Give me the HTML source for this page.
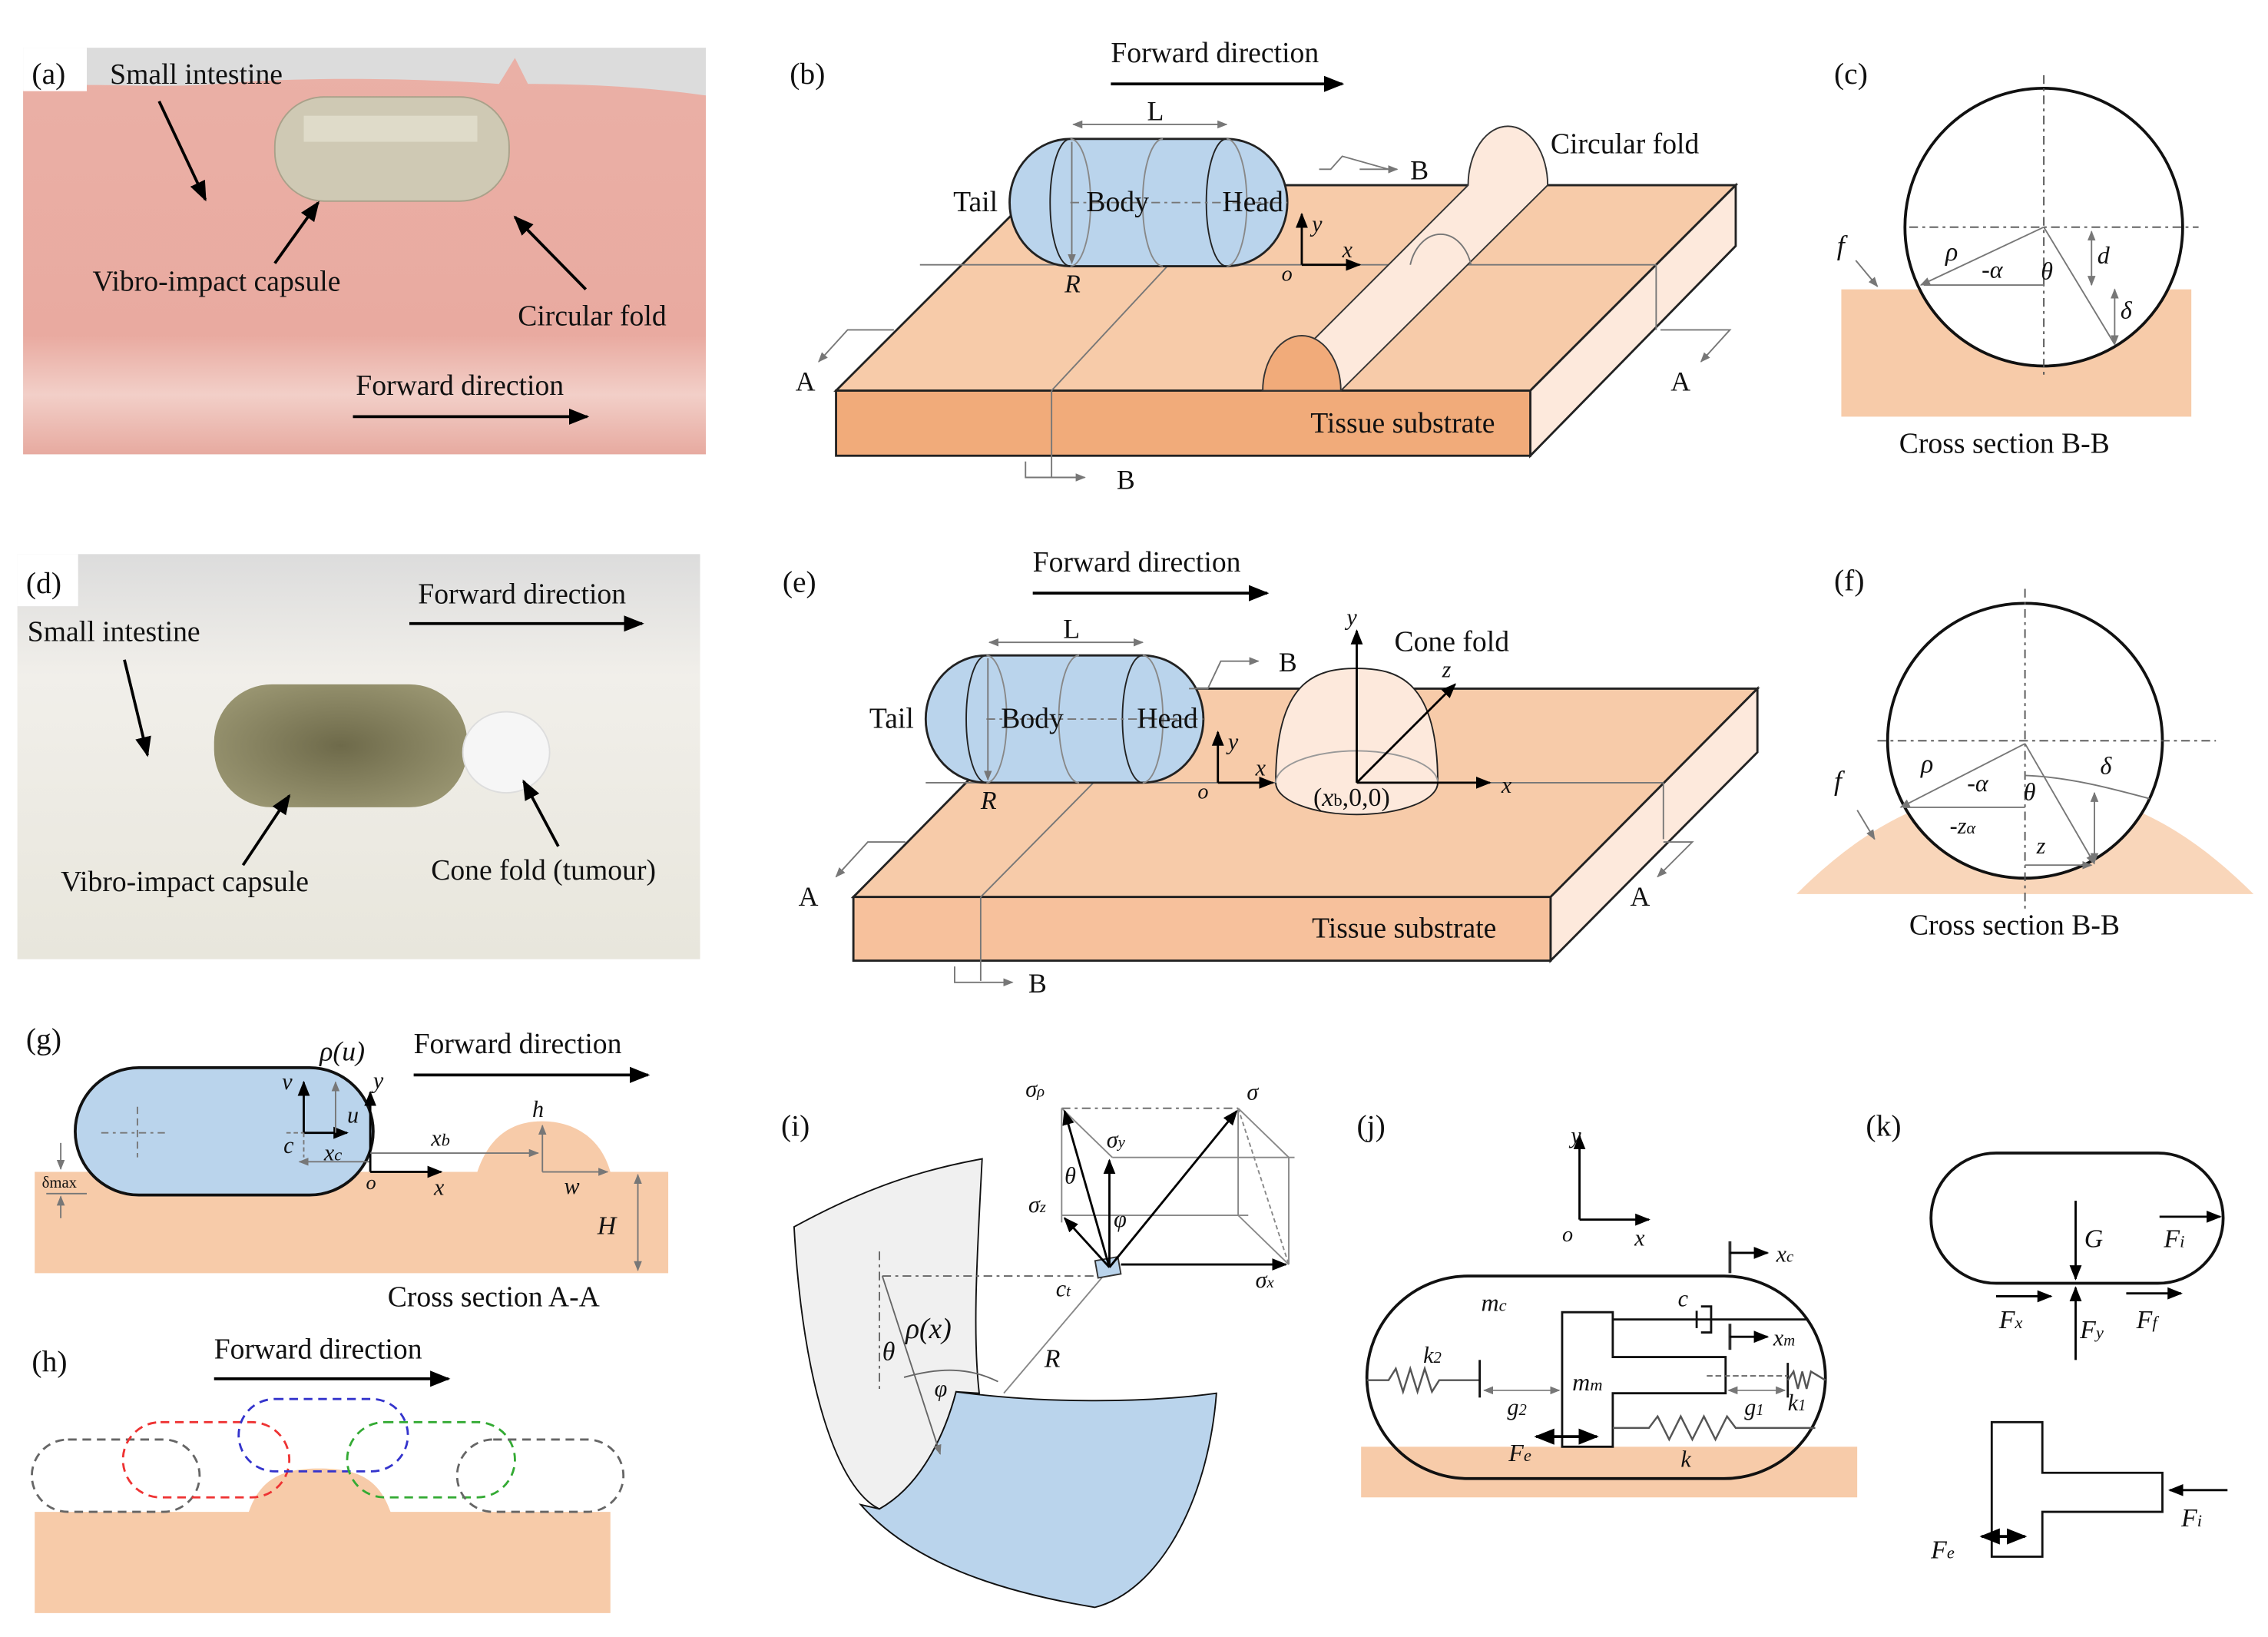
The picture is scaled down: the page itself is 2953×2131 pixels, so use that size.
<!DOCTYPE html>
<html><head><meta charset="utf-8"><style>
html,body{margin:0;padding:0;background:#fff;}
svg{display:block;}
svg text{font-family:"Liberation Serif","Times New Roman",serif !important;fill:#111;}
.i{font-style:italic;}
</style></head><body>
<svg width="2953" height="2131" viewBox="0 0 1568 1131.5" preserveAspectRatio="none" xmlns="http://www.w3.org/2000/svg" font-family="Liberation Serif, serif">
<defs>
<marker id="ak" viewBox="0 0 10 10" refX="9" refY="5" markerWidth="7" markerHeight="7" orient="auto-start-reverse"><path d="M0,1 L10,5 L0,9 z" fill="#000"/></marker>
<marker id="ag" viewBox="0 0 10 10" refX="9" refY="5" markerWidth="7" markerHeight="7" orient="auto-start-reverse"><path d="M0,1 L10,5 L0,9 z" fill="#777"/></marker>
<linearGradient id="pink" x1="0" y1="0" x2="0" y2="1"><stop offset="0" stop-color="#eab0a6"/><stop offset="0.7" stop-color="#e9aaa0"/><stop offset="0.85" stop-color="#f2cfc8"/><stop offset="1" stop-color="#e7aaa0"/></linearGradient>
<linearGradient id="wht" x1="0" y1="0" x2="0" y2="1"><stop offset="0" stop-color="#dcdcdc"/><stop offset="0.3" stop-color="#f1efea"/><stop offset="1" stop-color="#e8e6dc"/></linearGradient>
<radialGradient id="cap" cx="0.5" cy="0.5" r="0.6"><stop offset="0" stop-color="#6e6a4a"/><stop offset="1" stop-color="#9a9672"/></radialGradient>
</defs>

<!-- (a) photo -->
<rect x="16" y="33" width="472" height="281" fill="#dcdcdc"/>
<path d="M16,62 C50,55 100,62 150,58 C220,52 300,55 345,58 L356,40 L365,58 C420,58 460,62 488,66 L488,314 L16,314 z" fill="url(#pink)"/>
<rect x="16" y="33" width="44" height="30" fill="#fff"/>
<rect x="190" y="67" width="162" height="72" rx="34" fill="#cfc9b4" stroke="#a9a18a"/>
<rect x="210" y="80" width="120" height="18" fill="#e6e2d2" opacity="0.7"/>
<text x="22" y="58" font-size="21">(a)</text>
<text x="76" y="58" font-size="20">Small intestine</text>
<text x="64" y="201" font-size="20">Vibro-impact capsule</text>
<text x="358" y="225" font-size="20">Circular fold</text>
<text x="246" y="273" font-size="20">Forward direction</text>
<line x1="110" y1="70" x2="142" y2="138" stroke="#000" stroke-width="2" marker-end="url(#ak)"/>
<line x1="190" y1="182" x2="220" y2="140" stroke="#000" stroke-width="2" marker-end="url(#ak)"/>
<line x1="405" y1="200" x2="356" y2="150" stroke="#000" stroke-width="2" marker-end="url(#ak)"/>
<line x1="244" y1="288" x2="406" y2="288" stroke="#000" stroke-width="2" marker-end="url(#ak)"/>

<!-- (d) photo -->
<rect x="12" y="383" width="472" height="280" fill="url(#wht)"/>
<rect x="12" y="383" width="42" height="36" fill="#fff"/>
<rect x="148" y="473" width="175" height="85" rx="40" fill="url(#cap)"/>
<ellipse cx="350" cy="520" rx="30" ry="28" fill="#f6f6f6" stroke="#ddd"/>
<text x="18" y="410" font-size="21">(d)</text>
<text x="289" y="417" font-size="20">Forward direction</text>
<text x="19" y="443" font-size="20">Small intestine</text>
<text x="42" y="616" font-size="20">Vibro-impact capsule</text>
<text x="298" y="608" font-size="20">Cone fold (tumour)</text>
<line x1="283" y1="431" x2="444" y2="431" stroke="#000" stroke-width="2" marker-end="url(#ak)"/>
<line x1="86" y1="456" x2="102" y2="522" stroke="#000" stroke-width="2" marker-end="url(#ak)"/>
<line x1="168" y1="598" x2="200" y2="550" stroke="#000" stroke-width="2" marker-end="url(#ak)"/>
<line x1="386" y1="585" x2="362" y2="540" stroke="#000" stroke-width="2" marker-end="url(#ak)"/>

<!-- (b) -->
<text x="546" y="58" font-size="21">(b)</text>
<text x="768" y="43" font-size="20">Forward direction</text>
<line x1="768" y1="58" x2="928" y2="58" stroke="#000" stroke-width="2" marker-end="url(#ak)"/>
<polygon points="578,270 720,128 1200,128 1058,270" fill="#f7cba9" stroke="#222" stroke-width="1.5"/>
<polygon points="1058,270 1200,128 1200,170 1058,315" fill="#fde9dc" stroke="#222" stroke-width="1.5"/>
<rect x="578" y="270" width="480" height="45" fill="#f1ab7a" stroke="#222" stroke-width="1.5"/>
<line x1="636" y1="183" x2="1145" y2="183" stroke="#777"/>
<line x1="1145" y1="183" x2="1145" y2="228" stroke="#777"/>
<line x1="727" y1="270" x2="808" y2="183" stroke="#777"/>
<line x1="727" y1="270" x2="727" y2="330" stroke="#777"/>
<path d="M873,270 L1015,128 A27,40 0 0 1 1070,128 L927,270 z" fill="#fde9dc" stroke="#333"/>
<path d="M873,270 A27,38 0 0 1 927,270 z" fill="#f1ab7a" stroke="#333"/>
<path d="M975,183 A22,30 0 0 1 1017,183" fill="none" stroke="#777"/>
<path d="M740,96 L848,96 A42,44 0 0 1 848,184 L740,184 A42,44 0 0 1 740,96 z" fill="#bad4ec" stroke="#222" stroke-width="1.5"/>
<path d="M740,96 A14,44 0 0 0 740,184" fill="none" stroke="#222"/>
<path d="M848,96 A14,44 0 0 0 848,184" fill="none" stroke="#222"/>
<path d="M740,96 A14,44 0 0 1 740,184 M804,96 A14,44 0 0 0 804,184 M848,96 A14,44 0 0 1 848,184" fill="none" stroke="#888"/>
<line x1="740" y1="140" x2="890" y2="140" stroke="#777" stroke-dasharray="6,3,2,3"/>
<line x1="741" y1="98" x2="741" y2="182" stroke="#777" marker-end="url(#ag)"/>
<line x1="742" y1="86" x2="848" y2="86" stroke="#777" marker-start="url(#ag)" marker-end="url(#ag)"/>
<text x="793" y="83" font-size="19">L</text>
<text x="659" y="146" font-size="20">Tail</text>
<text x="751" y="146" font-size="20">Body</text>
<text x="845" y="146" font-size="20">Head</text>
<text x="736" y="202" font-size="18" class="i">R</text>
<line x1="900" y1="183" x2="900" y2="148" stroke="#000" stroke-width="1.5" marker-end="url(#ak)"/>
<line x1="900" y1="183" x2="940" y2="183" stroke="#000" stroke-width="1.5" marker-end="url(#ak)"/>
<text x="907" y="160" font-size="16" class="i">y</text>
<text x="928" y="178" font-size="16" class="i">x</text>
<text x="886" y="194" font-size="15" class="i">o</text>
<polyline points="912,117 920,117 928,108 960,117" fill="none" stroke="#777"/>
<line x1="940" y1="117" x2="966" y2="117" stroke="#777" marker-end="url(#ag)"/>
<text x="975" y="124" font-size="19">B</text>
<polyline points="709,319 709,330 750,330" fill="none" stroke="#777" marker-end="url(#ag)"/>
<text x="772" y="338" font-size="19">B</text>
<polyline points="618,228 586,228 566,250" fill="none" stroke="#777" marker-end="url(#ag)"/>
<text x="550" y="270" font-size="19">A</text>
<polyline points="1148,228 1196,228 1176,250" fill="none" stroke="#777" marker-end="url(#ag)"/>
<text x="1155" y="270" font-size="19">A</text>
<text x="1072" y="106" font-size="20">Circular fold</text>
<text x="906" y="299" font-size="20">Tissue substrate</text>

<!-- (c) -->
<text x="1268" y="58" font-size="21">(c)</text>
<rect x="1273" y="200" width="242" height="88" fill="#f7cba9"/>
<circle cx="1413" cy="157" r="96" fill="#fff" stroke="#111" stroke-width="2"/>
<line x1="1320" y1="157" x2="1520" y2="157" stroke="#555" stroke-dasharray="6,3,2,3"/>
<line x1="1413" y1="52" x2="1413" y2="262" stroke="#555" stroke-dasharray="6,3,2,3"/>
<line x1="1413" y1="157" x2="1328" y2="197" stroke="#777" marker-end="url(#ag)"/>
<line x1="1413" y1="197" x2="1330" y2="197" stroke="#777"/>
<line x1="1413" y1="157" x2="1462" y2="238" stroke="#777"/>
<line x1="1446" y1="160" x2="1446" y2="197" stroke="#777" marker-start="url(#ag)" marker-end="url(#ag)"/>
<line x1="1462" y1="200" x2="1462" y2="238" stroke="#777" marker-start="url(#ag)" marker-end="url(#ag)"/>
<line x1="1283" y1="180" x2="1298" y2="198" stroke="#777" marker-end="url(#ag)"/>
<text x="1270" y="176" font-size="19" class="i">f</text>
<text x="1345" y="180" font-size="18" class="i">ρ</text>
<text x="1370" y="192" font-size="17" class="i">-α</text>
<text x="1411" y="193" font-size="17" class="i">θ</text>
<text x="1450" y="182" font-size="17" class="i">d</text>
<text x="1466" y="220" font-size="17" class="i">δ</text>
<text x="1313" y="313" font-size="20">Cross section B-B</text>

<!-- (e) -->
<text x="541" y="409" font-size="21">(e)</text>
<text x="714" y="395" font-size="20">Forward direction</text>
<line x1="714" y1="410" x2="876" y2="410" stroke="#000" stroke-width="2" marker-end="url(#ak)"/>
<polygon points="590,620 732,476 1215,476 1072,620" fill="#f7cba9" stroke="#222" stroke-width="1.5"/>
<polygon points="1072,620 1215,476 1215,520 1072,664" fill="#fde9dc" stroke="#222" stroke-width="1.5"/>
<rect x="590" y="620" width="482" height="44" fill="#f7c19c" stroke="#222" stroke-width="1.5"/>
<line x1="640" y1="541" x2="1150" y2="541" stroke="#777"/>
<line x1="1150" y1="541" x2="1150" y2="580" stroke="#777"/>
<line x1="678" y1="620" x2="756" y2="541" stroke="#777"/>
<line x1="678" y1="620" x2="678" y2="678" stroke="#777"/>
<path d="M882,541 C882,470 910,462 938,462 C966,462 994,470 994,541 A56,22 0 0 1 882,541 z" fill="#fde9dc" stroke="#222"/>
<path d="M882,541 A56,22 0 0 1 994,541" fill="none" stroke="#999"/>
<line x1="938" y1="541" x2="1030" y2="541" stroke="#000" stroke-width="1.5" marker-end="url(#ak)"/>
<line x1="938" y1="541" x2="938" y2="436" stroke="#000" stroke-width="1.5" marker-end="url(#ak)"/>
<line x1="938" y1="541" x2="1006" y2="473" stroke="#000" stroke-width="1.5" marker-end="url(#ak)"/>
<text x="931" y="432" font-size="16" class="i">y</text>
<text x="1038" y="548" font-size="16" class="i">x</text>
<text x="997" y="468" font-size="16" class="i">z</text>
<text x="908" y="557" font-size="18">(<tspan class="i">x</tspan><tspan font-size="12">b</tspan>,0,0)</text>
<text x="964" y="450" font-size="20">Cone fold</text>
<path d="M682,453 L790,453 A42,44 0 0 1 790,541 L682,541 A42,44 0 0 1 682,453 z" fill="#bad4ec" stroke="#222" stroke-width="1.5"/>
<path d="M682,453 A14,44 0 0 0 682,541 M790,453 A14,44 0 0 0 790,541" fill="none" stroke="#222"/>
<path d="M682,453 A14,44 0 0 1 682,541 M746,453 A14,44 0 0 0 746,541 M790,453 A14,44 0 0 1 790,541" fill="none" stroke="#888"/>
<line x1="682" y1="497" x2="832" y2="497" stroke="#777" stroke-dasharray="6,3,2,3"/>
<line x1="683" y1="455" x2="683" y2="539" stroke="#777" marker-end="url(#ag)"/>
<line x1="684" y1="444" x2="790" y2="444" stroke="#777" marker-start="url(#ag)" marker-end="url(#ag)"/>
<text x="735" y="441" font-size="19">L</text>
<text x="601" y="503" font-size="20">Tail</text>
<text x="692" y="503" font-size="20">Body</text>
<text x="786" y="503" font-size="20">Head</text>
<text x="678" y="559" font-size="18" class="i">R</text>
<line x1="842" y1="541" x2="842" y2="506" stroke="#000" stroke-width="1.5" marker-end="url(#ak)"/>
<line x1="842" y1="541" x2="880" y2="541" stroke="#000" stroke-width="1.5" marker-end="url(#ak)"/>
<text x="849" y="518" font-size="16" class="i">y</text>
<text x="868" y="536" font-size="16" class="i">x</text>
<text x="828" y="552" font-size="15" class="i">o</text>
<polyline points="822,476 835,476 844,457 870,457" fill="none" stroke="#777" marker-end="url(#ag)"/>
<text x="884" y="464" font-size="19">B</text>
<polyline points="660,668 660,679 700,679" fill="none" stroke="#777" marker-end="url(#ag)"/>
<text x="711" y="686" font-size="19">B</text>
<polyline points="626,582 600,582 578,606" fill="none" stroke="#777" marker-end="url(#ag)"/>
<text x="552" y="626" font-size="19">A</text>
<polyline points="1150,582 1170,582 1146,606" fill="none" stroke="#777" marker-end="url(#ag)"/>
<text x="1127" y="626" font-size="19">A</text>
<text x="907" y="648" font-size="20">Tissue substrate</text>

<!-- (f) -->
<text x="1268" y="408" font-size="21">(f)</text>
<path d="M1242,618 C1300,560 1350,545 1400,545 C1450,545 1500,560 1558,618 z" fill="#f9d6ba"/>
<circle cx="1400" cy="512" r="95" fill="#fff" stroke="#111" stroke-width="2"/>
<line x1="1298" y1="512" x2="1532" y2="512" stroke="#555" stroke-dasharray="6,3,2,3"/>
<line x1="1400" y1="407" x2="1400" y2="628" stroke="#555" stroke-dasharray="6,3,2,3"/>
<line x1="1400" y1="514" x2="1314" y2="558" stroke="#777" marker-end="url(#ag)"/>
<line x1="1400" y1="558" x2="1316" y2="558" stroke="#777"/>
<line x1="1400" y1="514" x2="1448" y2="597" stroke="#777" marker-end="url(#ag)"/>
<line x1="1400" y1="598" x2="1446" y2="598" stroke="#777" marker-end="url(#ag)"/>
<path d="M1400,536 C1430,537 1460,545 1486,552" fill="none" stroke="#777"/>
<line x1="1448" y1="548" x2="1448" y2="596" stroke="#777" marker-start="url(#ag)" marker-end="url(#ag)"/>
<line x1="1284" y1="560" x2="1296" y2="580" stroke="#777" marker-end="url(#ag)"/>
<text x="1268" y="546" font-size="19" class="i">f</text>
<text x="1328" y="534" font-size="18" class="i">ρ</text>
<text x="1360" y="547" font-size="17" class="i">-α</text>
<text x="1399" y="553" font-size="17" class="i">θ</text>
<text x="1452" y="535" font-size="17" class="i">δ</text>
<text x="1348" y="576" font-size="16" class="i">-z<tspan font-size="12">α</tspan></text>
<text x="1408" y="590" font-size="16" class="i">z</text>
<text x="1320" y="646" font-size="20">Cross section B-B</text>

<!-- (g) -->
<text x="18" y="725" font-size="21">(g)</text>
<text x="286" y="728" font-size="20">Forward direction</text>
<line x1="286" y1="743" x2="448" y2="743" stroke="#000" stroke-width="2" marker-end="url(#ak)"/>
<path d="M24,810 L330,810 C340,780 360,775 375,775 C395,775 415,785 422,810 L462,810 L462,880 L24,880 z" fill="#f7cba9"/>
<rect x="52" y="738" width="206" height="88" rx="44" fill="#bad4ec" stroke="#111" stroke-width="2"/>
<line x1="70" y1="783" x2="115" y2="783" stroke="#777" stroke-dasharray="5,3,2,3"/>
<line x1="95" y1="765" x2="95" y2="800" stroke="#777" stroke-dasharray="5,3"/>
<line x1="210" y1="783" x2="210" y2="748" stroke="#000" stroke-width="1.5" marker-end="url(#ak)"/>
<line x1="210" y1="783" x2="240" y2="783" stroke="#000" stroke-width="1.5" marker-end="url(#ak)"/>
<line x1="232" y1="783" x2="232" y2="748" stroke="#777" marker-end="url(#ag)"/>
<line x1="198" y1="783" x2="210" y2="783" stroke="#777" stroke-dasharray="3,2"/>
<line x1="210" y1="783" x2="210" y2="800" stroke="#777" stroke-dasharray="3,2"/>
<line x1="256" y1="803" x2="207" y2="803" stroke="#777" marker-end="url(#ag)"/>
<line x1="256" y1="810" x2="256" y2="755" stroke="#000" stroke-width="1.5" marker-end="url(#ak)"/>
<line x1="256" y1="810" x2="305" y2="810" stroke="#000" stroke-width="1.5" marker-end="url(#ak)"/>
<line x1="256" y1="797" x2="372" y2="797" stroke="#777" marker-end="url(#ag)"/>
<line x1="375" y1="810" x2="375" y2="778" stroke="#777" marker-end="url(#ag)"/>
<line x1="375" y1="810" x2="420" y2="810" stroke="#777" marker-end="url(#ag)"/>
<line x1="441" y1="812" x2="441" y2="878" stroke="#777" marker-start="url(#ag)" marker-end="url(#ag)"/>
<line x1="42" y1="790" x2="42" y2="808" stroke="#777" marker-end="url(#ag)"/>
<line x1="42" y1="842" x2="42" y2="827" stroke="#777" marker-end="url(#ag)"/>
<line x1="32" y1="825" x2="60" y2="825" stroke="#777"/>
<text x="29" y="821" font-size="11">δmax</text>
<text x="221" y="733" font-size="19" class="i">ρ(u)</text>
<text x="195" y="753" font-size="16" class="i">v</text>
<text x="240" y="776" font-size="16" class="i">u</text>
<text x="258" y="752" font-size="16" class="i">y</text>
<text x="196" y="797" font-size="16" class="i">c</text>
<text x="224" y="802" font-size="16" class="i">x<tspan font-size="12">c</tspan></text>
<text x="298" y="792" font-size="16" class="i">x<tspan font-size="12">b</tspan></text>
<text x="368" y="772" font-size="16" class="i">h</text>
<text x="390" y="825" font-size="16" class="i">w</text>
<text x="413" y="853" font-size="18" class="i">H</text>
<text x="253" y="822" font-size="14" class="i">o</text>
<text x="300" y="826" font-size="16" class="i">x</text>
<text x="268" y="903" font-size="20">Cross section A-A</text>

<!-- (h) -->
<text x="22" y="948" font-size="21">(h)</text>
<text x="148" y="939" font-size="20">Forward direction</text>
<line x1="148" y1="953" x2="310" y2="953" stroke="#000" stroke-width="2" marker-end="url(#ak)"/>
<path d="M24,1045 L172,1045 C180,1022 195,1015 221,1015 C247,1015 262,1022 270,1045 L422,1045 L422,1115 L24,1115 z" fill="#f7cba9"/>
<rect x="22" y="995" width="116" height="50" rx="25" fill="none" stroke="#666" stroke-width="1.5" stroke-dasharray="6,4"/>
<rect x="85" y="983" width="115" height="52" rx="26" fill="none" stroke="#e33" stroke-width="1.5" stroke-dasharray="6,4"/>
<rect x="165" y="967" width="117" height="50" rx="25" fill="none" stroke="#33c" stroke-width="1.5" stroke-dasharray="6,4"/>
<rect x="240" y="983" width="116" height="52" rx="26" fill="none" stroke="#3a3" stroke-width="1.5" stroke-dasharray="6,4"/>
<rect x="316" y="995" width="115" height="50" rx="25" fill="none" stroke="#666" stroke-width="1.5" stroke-dasharray="6,4"/>

<!-- (i) -->
<text x="540" y="785" font-size="21">(i)</text>
<path d="M549,848 C600,820 640,808 679,801 C676,860 672,920 677,963 L661,962 C655,985 640,1025 608,1043 C580,1030 555,960 549,848 z" fill="#f0f0f0" stroke="#111"/>
<path d="M661,962 C720,970 790,970 841,963 C835,1040 800,1100 757,1111 C690,1100 630,1080 595,1040 L608,1043 C640,1025 655,985 661,962 z" fill="#bad4ec" stroke="#111"/>
<line x1="608" y1="865" x2="608" y2="960" stroke="#666" stroke-dasharray="6,3,2,3"/>
<line x1="610" y1="882" x2="760" y2="882" stroke="#666" stroke-dasharray="6,3,2,3"/>
<line x1="610" y1="882" x2="650" y2="1005" stroke="#666" marker-end="url(#ag)"/>
<line x1="694" y1="963" x2="767" y2="877" stroke="#888"/>
<path d="M625,952 C650,945 670,945 690,955" fill="none" stroke="#666"/>
<rect x="758" y="870" width="16" height="12" fill="#bad4ec" stroke="#333" transform="rotate(-10 766 876)"/>
<line x1="734" y1="766" x2="856" y2="766" stroke="#666" stroke-dasharray="6,3,2,3"/>
<line x1="734" y1="766" x2="734" y2="845" stroke="#888"/>
<line x1="769" y1="800" x2="895" y2="800" stroke="#888"/>
<line x1="734" y1="840" x2="863" y2="840" stroke="#888"/>
<line x1="856" y1="766" x2="856" y2="840" stroke="#888"/>
<line x1="891" y1="800" x2="891" y2="874" stroke="#888"/>
<line x1="856" y1="766" x2="891" y2="800" stroke="#888"/>
<line x1="856" y1="840" x2="891" y2="874" stroke="#888"/>
<line x1="734" y1="766" x2="769" y2="800" stroke="#888"/>
<line x1="856" y1="766" x2="891" y2="874" stroke="#888" stroke-dasharray="3,2"/>
<line x1="767" y1="876" x2="767" y2="802" stroke="#000" stroke-width="1.5" marker-end="url(#ak)"/>
<line x1="767" y1="876" x2="736" y2="768" stroke="#000" stroke-width="1.5" marker-end="url(#ak)"/>
<line x1="767" y1="876" x2="855" y2="768" stroke="#000" stroke-width="1.5" marker-end="url(#ak)"/>
<line x1="767" y1="876" x2="736" y2="842" stroke="#000" stroke-width="1.5" marker-end="url(#ak)"/>
<line x1="775" y1="874" x2="889" y2="874" stroke="#000" stroke-width="1.5" marker-end="url(#ak)"/>
<text x="709" y="758" font-size="16" class="i">σ<tspan font-size="11">ρ</tspan></text>
<text x="862" y="760" font-size="16" class="i">σ</text>
<text x="765" y="793" font-size="16" class="i">σ<tspan font-size="11">y</tspan></text>
<text x="711" y="838" font-size="16" class="i">σ<tspan font-size="11">z</tspan></text>
<text x="868" y="890" font-size="16" class="i">σ<tspan font-size="11">x</tspan></text>
<text x="736" y="818" font-size="16" class="i">θ</text>
<text x="770" y="848" font-size="16" class="i">φ</text>
<text x="730" y="896" font-size="16" class="i">c<tspan font-size="11">t</tspan></text>
<text x="722" y="945" font-size="18" class="i">R</text>
<text x="610" y="940" font-size="18" class="i">θ</text>
<text x="626" y="925" font-size="20" class="i">ρ(x)</text>
<text x="646" y="965" font-size="16" class="i">φ</text>

<!-- (j) -->
<text x="938" y="785" font-size="21">(j)</text>
<line x1="1092" y1="843" x2="1092" y2="785" stroke="#000" stroke-width="1.5" marker-end="url(#ak)"/>
<line x1="1092" y1="843" x2="1140" y2="843" stroke="#000" stroke-width="1.5" marker-end="url(#ak)"/>
<text x="1086" y="790" font-size="16" class="i">y</text>
<text x="1130" y="861" font-size="16" class="i">x</text>
<text x="1080" y="858" font-size="15" class="i">o</text>
<rect x="941" y="1000" width="343" height="35" fill="#f7cba9"/>
<rect x="945" y="882" width="317" height="140" rx="70" fill="none" stroke="#111" stroke-width="2"/>
<path d="M1080,907 L1115,907 L1115,938 L1193,938 L1193,963 L1115,963 L1115,1000 L1080,1000 z" fill="none" stroke="#111" stroke-width="1.5"/>
<line x1="1115" y1="912" x2="1250" y2="912" stroke="#111" stroke-width="1.5"/>
<path d="M1176,903 L1183,903 L1183,921 L1176,921" fill="none" stroke="#111" stroke-width="1.5"/>
<line x1="1173" y1="906" x2="1173" y2="918" stroke="#111" stroke-width="1.5"/>
<polyline points="945,954 960,954 965,946 970,962 975,946 980,962 985,946 990,962 995,954 1023,954" fill="none" stroke="#555" stroke-width="1.3"/>
<line x1="1023" y1="940" x2="1023" y2="966" stroke="#111" stroke-width="1.5"/>
<line x1="1026" y1="961" x2="1078" y2="961" stroke="#888" marker-start="url(#ag)" marker-end="url(#ag)"/>
<line x1="1236" y1="942" x2="1236" y2="966" stroke="#111" stroke-width="1.5"/>
<polyline points="1236,954 1240,948 1243,960 1246,948 1249,960 1252,948 1262,954" fill="none" stroke="#555" stroke-width="1.3"/>
<line x1="1195" y1="961" x2="1234" y2="961" stroke="#888" marker-start="url(#ag)" marker-end="url(#ag)"/>
<line x1="1180" y1="951" x2="1236" y2="951" stroke="#666" stroke-dasharray="4,2"/>
<polyline points="1115,987 1140,987 1146,979 1154,995 1162,979 1170,995 1178,979 1186,995 1194,979 1200,987 1255,987" fill="none" stroke="#555" stroke-width="1.3"/>
<line x1="1062" y1="993" x2="1104" y2="993" stroke="#000" stroke-width="2" marker-start="url(#ak)" marker-end="url(#ak)"/>
<line x1="1196" y1="858" x2="1196" y2="880" stroke="#333" stroke-width="2"/>
<line x1="1196" y1="866" x2="1222" y2="866" stroke="#000" stroke-width="1.5" marker-end="url(#ak)"/>
<line x1="1196" y1="915" x2="1196" y2="933" stroke="#333" stroke-width="2"/>
<line x1="1196" y1="924" x2="1222" y2="924" stroke="#000" stroke-width="1.5" marker-end="url(#ak)"/>
<text x="1228" y="872" font-size="16" class="i">x<tspan font-size="11">c</tspan></text>
<text x="1226" y="930" font-size="16" class="i">x<tspan font-size="11">m</tspan></text>
<text x="1024" y="906" font-size="17" class="i">m<tspan font-size="12">c</tspan></text>
<text x="1087" y="961" font-size="17" class="i">m<tspan font-size="12">m</tspan></text>
<text x="1160" y="903" font-size="16" class="i">c</text>
<text x="984" y="942" font-size="16" class="i">k<tspan font-size="11">2</tspan></text>
<text x="1236" y="975" font-size="16" class="i">k<tspan font-size="11">1</tspan></text>
<text x="1042" y="978" font-size="16" class="i">g<tspan font-size="11">2</tspan></text>
<text x="1206" y="978" font-size="16" class="i">g<tspan font-size="11">1</tspan></text>
<text x="1043" y="1010" font-size="17" class="i">F<tspan font-size="12">e</tspan></text>
<text x="1162" y="1014" font-size="16" class="i">k</text>

<!-- (k) -->
<text x="1290" y="785" font-size="21">(k)</text>
<rect x="1335" y="797" width="202" height="90" rx="45" fill="none" stroke="#111" stroke-width="2"/>
<line x1="1435" y1="830" x2="1435" y2="884" stroke="#000" stroke-width="1.5" marker-end="url(#ak)"/>
<line x1="1435" y1="940" x2="1435" y2="890" stroke="#000" stroke-width="1.5" marker-end="url(#ak)"/>
<line x1="1493" y1="841" x2="1535" y2="841" stroke="#000" stroke-width="1.5" marker-end="url(#ak)"/>
<line x1="1380" y1="896" x2="1418" y2="896" stroke="#000" stroke-width="1.5" marker-end="url(#ak)"/>
<line x1="1470" y1="894" x2="1508" y2="894" stroke="#000" stroke-width="1.5" marker-end="url(#ak)"/>
<text x="1441" y="862" font-size="18" class="i">G</text>
<text x="1496" y="862" font-size="18" class="i">F<tspan font-size="12">i</tspan></text>
<text x="1382" y="918" font-size="18" class="i">F<tspan font-size="12">x</tspan></text>
<text x="1438" y="925" font-size="18" class="i">F<tspan font-size="12">y</tspan></text>
<text x="1477" y="918" font-size="18" class="i">F<tspan font-size="12">f</tspan></text>
<path d="M1377,983 L1412,983 L1412,1018 L1495,1018 L1495,1045 L1412,1045 L1412,1076 L1377,1076 z" fill="none" stroke="#111" stroke-width="1.5"/>
<line x1="1540" y1="1030" x2="1500" y2="1030" stroke="#000" stroke-width="1.5" marker-end="url(#ak)"/>
<line x1="1370" y1="1062" x2="1400" y2="1062" stroke="#000" stroke-width="2" marker-start="url(#ak)" marker-end="url(#ak)"/>
<text x="1508" y="1055" font-size="18" class="i">F<tspan font-size="12">i</tspan></text>
<text x="1335" y="1077" font-size="18" class="i">F<tspan font-size="12">e</tspan></text>
</svg>
</body></html>
